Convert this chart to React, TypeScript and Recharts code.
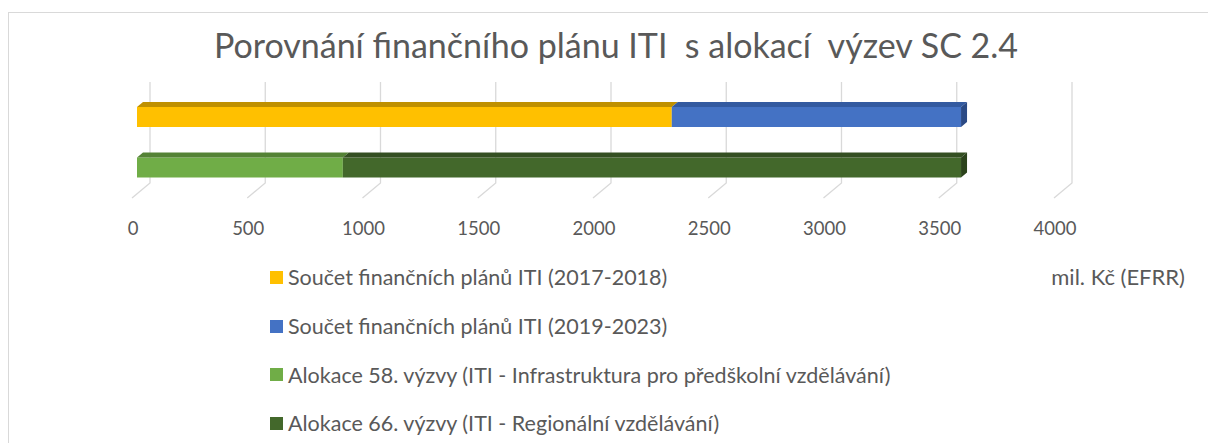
import React from 'react';
import { BarChart, Bar, XAxis, YAxis, CartesianGrid, Legend } from 'recharts';

const categories = ['Finanční plány ITI', 'Alokace výzev SC 2.4'];
const plan20172018 = [2320, 0];
const plan20192023 = [1255, 0];
const vyzva58 = [0, 893];
const vyzva66 = [0, 2682];
const xTicks = [0, 500, 1000, 1500, 2000, 2500, 3000, 3500, 4000];

const series = [
    { key: 'plan1718', name: 'Součet finančních plánů ITI (2017-2018)', fill: '#FFC000', top: '#BF9000', side: '#BF9000', end: false },
    { key: 'plan1923', name: 'Součet finančních plánů ITI (2019-2023)', fill: '#4472C4', top: '#335AA0', side: '#2B4A85', end: true },
    { key: 'v58', name: 'Alokace 58. výzvy (ITI - Infrastruktura pro předškolní vzdělávání)', fill: '#70AD47', top: '#548235', side: '#548235', end: false },
    { key: 'v66', name: 'Alokace 66. výzvy (ITI - Regionální vzdělávání)', fill: '#43682B', top: '#344F22', side: '#2C431C', end: true },
];

const data = categories.map((name, i) => ({
    name,
    plan1718: plan20172018[i],
    plan1923: plan20192023[i],
    v58: vyzva58[i],
    v66: vyzva66[i],
}));

const FONT = 'Lato, "Open Sans", sans-serif';
const TEXT = '#595959';
const DX = 6; // depth of the 3D top face
const DY = 5;

const Bar3D = (props: any) => {
    const { x, y, width, height, s } = props;
    if (!width || width < 0.5) return <g />;
    return (
        <g>
            <rect x={x} y={y} width={width} height={height} fill={s.fill} />
            <polygon
                points={`${x},${y} ${x + DX},${y - DY} ${x + width + DX},${y - DY} ${x + width},${y}`}
                fill={s.top}
            />
            {s.end && (
                <polygon
                    points={`${x + width},${y} ${x + width + DX},${y - DY} ${x + width + DX},${y + height - DY} ${x + width},${y + height}`}
                    fill={s.side}
                />
            )}
        </g>
    );
};

// back-wall gridline with a slanted floor segment
const GridLine3D = (props: any) => {
    const { x1, y1, y2 } = props;
    const bx = x1 + 13;
    return (
        <polyline
            key={props.key}
            points={`${bx},${y1 - 10} ${bx},${y2 - 10} ${x1 - 5},${y2 + 5}`}
            fill="none"
            stroke="#D9D9D9"
            strokeWidth={1.3}
        />
    );
};

const Tick = (props: any) => {
    const { x, y, payload } = props;
    return (
        <text x={x - 4} y={y + 35} textAnchor="middle" dominantBaseline="central" fill={TEXT} fontSize={18.5} fontFamily={FONT}>
            {payload.value}
        </text>
    );
};

// legend keeps the order of the series list
const LegendRows = () => (
    <div>
        {series.map((s) => (
            <div key={s.key} style={{ height: 48.7, display: 'flex', alignItems: 'center', fontFamily: FONT, fontSize: 21.5, color: TEXT, whiteSpace: 'nowrap' }}>
                <span style={{ display: 'inline-block', width: 13, height: 13, background: s.fill, marginRight: 5 }} />
                {s.name}
            </div>
        ))}
    </div>
);

export default function App() {
    return (
        <div style={{ position: 'absolute', left: 0, top: 0, width: 1208, height: 443, background: '#fff', overflow: 'hidden' }}>
            <div style={{ position: 'absolute', left: 8, top: 12, width: 1300, height: 500, borderLeft: '1.5px solid #D9D9D9', borderTop: '1.5px solid #D9D9D9' }} />
            <div style={{ position: 'absolute', left: 0, width: 1232, top: 25, textAlign: 'center', fontFamily: FONT, fontSize: 34, color: TEXT, whiteSpace: 'pre', lineHeight: '40px' }}>
                {'Porovnání finančního plánu ITI  s alokací  výzev SC 2.4'}
            </div>
            <div style={{ position: 'absolute', right: 23, top: 263, fontFamily: FONT, fontSize: 22, color: TEXT }}>mil. Kč (EFRR)</div>
            <div style={{ position: 'absolute', left: 0, top: 0 }}>
                <BarChart width={1208} height={443} data={data} layout="vertical" barSize={20} margin={{ top: 92, right: 149, bottom: 220, left: 137 }}>
                    <CartesianGrid horizontal={false} vertical={GridLine3D} />
                    <XAxis type="number" domain={[0, 4000]} ticks={xTicks} height={30} axisLine={false} tickLine={false} tickSize={0} tickMargin={0} tick={Tick} interval={0} />
                    <YAxis type="category" dataKey="name" hide />
                    <Legend
                        layout="vertical"
                        align="center"
                        verticalAlign="middle"
                        content={LegendRows}
                        wrapperStyle={{ position: 'absolute', left: 270, top: 253, width: 'auto' }}
                    />
                    {series.map((s) => (
                        <Bar
                            key={s.key}
                            dataKey={s.key}
                            name={s.name}
                            stackId="a"
                            fill={s.fill}
                            isAnimationActive={false}
                            shape={(p: any) => <Bar3D {...p} s={s} />}
                        />
                    ))}
                </BarChart>
            </div>
        </div>
    );
}
